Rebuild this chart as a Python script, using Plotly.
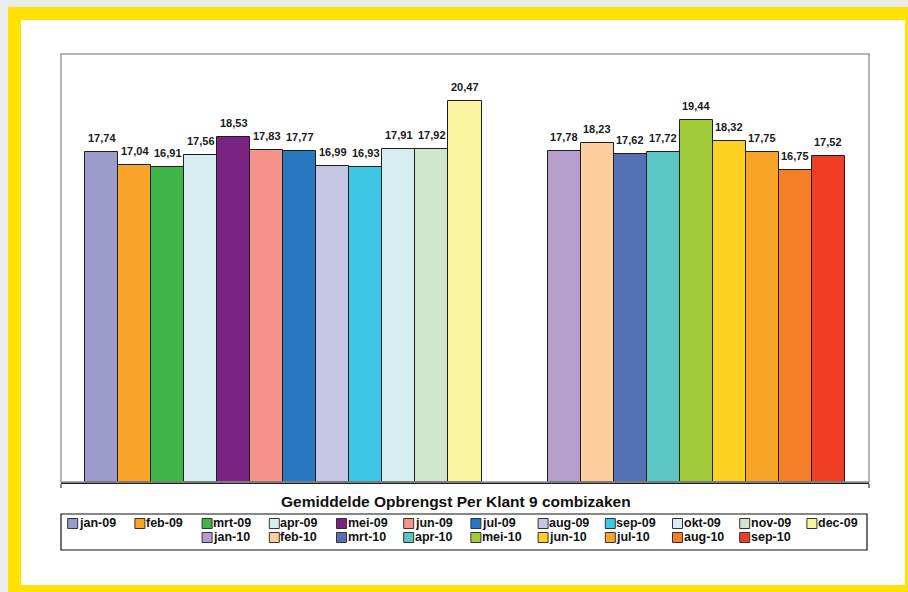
import plotly.graph_objects as go

# ---------------- data ----------------
months_2009 = ["jan-09", "feb-09", "mrt-09", "apr-09", "mei-09", "jun-09",
               "jul-09", "aug-09", "sep-09", "okt-09", "nov-09", "dec-09"]
values_2009 = [17.74, 17.04, 16.91, 17.56, 18.53, 17.83,
               17.77, 16.99, 16.93, 17.91, 17.92, 20.47]
colors_2009 = ["#9b9bcb", "#f8a428", "#3fb54a", "#d6eef0", "#7a2382", "#f4948a",
               "#2878c0", "#c5c6e4", "#3ec6e6", "#d6eef0", "#cfe6cc", "#f8f4a0"]

months_2010 = ["jan-10", "feb-10", "mrt-10", "apr-10", "mei-10", "jun-10",
               "jul-10", "aug-10", "sep-10"]
values_2010 = [17.78, 18.23, 17.62, 17.72, 19.44, 18.32, 17.75, 16.75, 17.52]
colors_2010 = ["#b59ecb", "#fdcc9f", "#5470b7", "#5bc5c2", "#9fcb3b", "#fdd122",
               "#f8a428", "#f47f28", "#ef3d26"]

chart_title = "Gemiddelde Opbrengst Per Klant 9 combizaken"

# ---------------- layout constants ----------------
W, H = 908, 592
ML, MR, MT, MB = 61, 39, 54, 110
PW, PH = W - ML - MR, H - MT - MB
GAP_SLOTS = 2
N_SLOTS = len(months_2009) + GAP_SLOTS + len(months_2010)
PAD = 0.726
FONT = "Liberation Sans, Arial, sans-serif"


def px_x(px):
    return (px - ML) / PW


def px_y(py):
    return (H - MB - py) / PH


def fmt(v):
    return f"{v:.2f}".replace(".", ",")


fig = go.Figure()
annotations = []
shapes = [
    # yellow frame on grey page
    dict(type="rect", xref="paper", yref="paper", layer="below",
         x0=px_x(8), x1=px_x(W), y0=px_y(H), y1=px_y(7),
         fillcolor="#ffe200", line=dict(width=0)),
    # white inner page
    dict(type="rect", xref="paper", yref="paper", layer="below",
         x0=px_x(21), x1=px_x(905), y0=px_y(585), y1=px_y(20),
         fillcolor="white", line=dict(width=0)),
    # plot-area frame
    dict(type="rect", xref="paper", yref="paper", layer="above",
         x0=0, x1=1, y0=0, y1=1,
         fillcolor="rgba(0,0,0,0)", line=dict(color="#9c9c9c", width=1.5)),
]


def add_bar(pos, label, value, color):
    fig.add_trace(go.Bar(
        x=[pos], y=[value], width=1, name=label, showlegend=False,
        marker=dict(color=color, line=dict(color="#1e1e1e", width=1)),
        hovertemplate=label + ": " + fmt(value) + "<extra></extra>",
    ))
    annotations.append(dict(
        x=pos, y=value, xref="x", yref="y", text=fmt(value), showarrow=False,
        yanchor="bottom", yshift=6,
        font=dict(family=FONT, size=11, color="#1a1a1a", weight="bold"),
    ))


for i, (m, v, c) in enumerate(zip(months_2009, values_2009, colors_2009)):
    add_bar(i, m, v, c)

off = len(months_2009) + GAP_SLOTS
for i, (m, v, c) in enumerate(zip(months_2010, values_2010, colors_2010)):
    add_bar(off + i, m, v, c)

# title
annotations.append(dict(
    x=px_x(456), y=px_y(502), xref="paper", yref="paper", text=chart_title,
    showarrow=False, xanchor="center", yanchor="middle",
    font=dict(family=FONT, size=15.5, color="#111", weight="bold"),
))

# ---------------- legend (12-column grid, gap slots left blank) ----------------
LEG_L, LEG_R, LEG_T, LEG_B = 61, 867, 514, 550
COLS = 12
COL0, COL_W = 67.7, 67.2
ROW0, ROW_H = 523.5, 14
SW = 10
shapes.append(dict(type="rect", xref="paper", yref="paper", layer="above",
                   x0=px_x(LEG_L), x1=px_x(LEG_R), y0=px_y(LEG_B), y1=px_y(LEG_T),
                   fillcolor="white", line=dict(color="#111", width=1.2)))

legend_names = months_2009 + [None] * GAP_SLOTS + months_2010
legend_colors = colors_2009 + [None] * GAP_SLOTS + colors_2010
for k, (name, col) in enumerate(zip(legend_names, legend_colors)):
    if name is None:
        continue
    r, c = divmod(k, COLS)
    sx = COL0 + c * COL_W
    cy = ROW0 + r * ROW_H
    shapes.append(dict(type="rect", xref="paper", yref="paper", layer="above",
                       x0=px_x(sx), x1=px_x(sx + SW),
                       y0=px_y(cy + SW / 2), y1=px_y(cy - SW / 2),
                       fillcolor=col, line=dict(color="#333", width=1)))
    annotations.append(dict(
        x=px_x(sx + SW + 1), y=px_y(cy - 0.5), xref="paper", yref="paper",
        text=name, showarrow=False, xanchor="left", yanchor="middle",
        borderpad=0, borderwidth=0,
        font=dict(family=FONT, size=12.5, color="#111", weight="bold"),
    ))

x_lo, x_hi = -0.5 - PAD, N_SLOTS - 0.5 + PAD

fig.update_layout(
    width=W, height=H,
    margin=dict(l=ML, r=MR, t=MT, b=MB, autoexpand=False),
    paper_bgcolor="#ebebeb",
    plot_bgcolor="white",
    barmode="overlay",
    bargap=0,
    showlegend=False,
    xaxis=dict(range=[x_lo, x_hi], showgrid=False, zeroline=False,
               showline=True, linecolor="#222", linewidth=1.5,
               tickmode="array", tickvals=[x_lo, x_hi], ticktext=["", ""],
               ticks="outside", ticklen=4, tickcolor="#888", tickwidth=1.5,
               showticklabels=False, fixedrange=True),
    yaxis=dict(range=[0, 23], showgrid=False, zeroline=False, showline=False,
               showticklabels=False, ticks="", fixedrange=True),
    annotations=annotations,
    shapes=shapes,
    font=dict(family=FONT),
)

fig.write_html("out.html")
